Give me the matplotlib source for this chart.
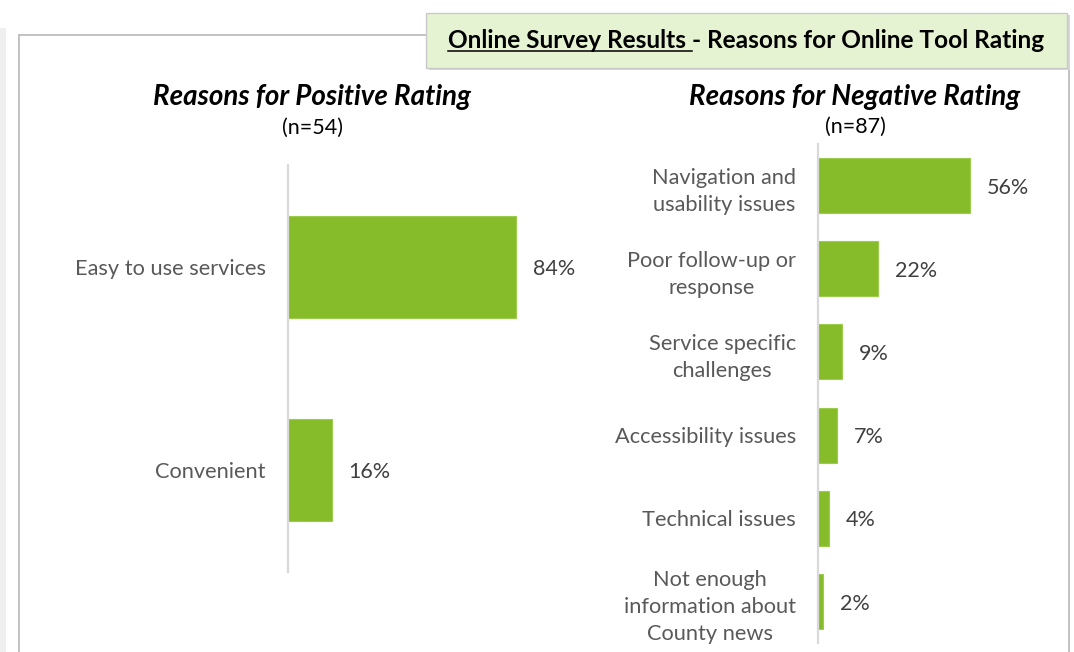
import matplotlib
matplotlib.use("Agg")
import matplotlib.pyplot as plt
from matplotlib.patches import Rectangle
from matplotlib.lines import Line2D

plt.rcParams['font.family'] = ['Lato', 'DejaVu Sans']

# positive rating reasons (n=54)
pos_labels = ['Easy to use services', 'Convenient']
pos_values = [84, 16]

# negative rating reasons (n=87)
neg_labels = ['Navigation and\nusability issues', 'Poor follow-up or\nresponse',
              'Service specific\nchallenges', 'Accessibility issues',
              'Technical issues', 'Not enough\ninformation about\nCounty news']
neg_values = [56, 22, 9, 7, 4, 2]

GREEN = '#86bc29'
W, H = 1074, 652

fig = plt.figure(figsize=(W / 100, H / 100), dpi=100)
fig.patch.set_facecolor('white')


def box(x0, y0, x1, y1):
    # pixel box (top-left origin) -> figure fraction rect
    return [x0 / W, 1 - y1 / H, (x1 - x0) / W, (y1 - y0) / H]


def fx(x):
    return x / W


def fy(y):
    return 1 - y / H


# grey strip on the far left and the outer frame
fig.patches.append(Rectangle((0, 0), fx(6), fy(28), transform=fig.transFigure,
                             facecolor='#efefef', edgecolor='none', zorder=0))
frame_kw = dict(transform=fig.transFigure, color='#bdbdbd', lw=1.3, zorder=1)
fig.lines.append(Line2D([fx(19), fx(19)], [0, fy(35)], **frame_kw))
fig.lines.append(Line2D([fx(19), fx(1069)], [fy(35), fy(35)], **frame_kw))
fig.lines.append(Line2D([fx(1069), fx(1069)], [0, fy(35)], **frame_kw))


def bar_panel(rect, labels, values, height):
    ax = fig.add_axes(rect)
    y = list(range(len(labels)))
    ax.barh(y, values, height=height, color=GREEN, edgecolor='#9ccc4c', linewidth=0.8)
    ax.set_xlim(0, 100)
    ax.set_ylim(len(labels) - 0.5, -0.5)
    ax.set_yticks(y)
    ax.set_yticklabels(labels, fontsize=15.7, color='#595959')
    for t in ax.get_yticklabels():
        t.set_multialignment('center')
        t.set_linespacing(1.45)
    ax.tick_params(axis='y', length=0, pad=16)
    ax.set_xticks([])
    for s in ['top', 'right', 'bottom']:
        ax.spines[s].set_visible(False)
    ax.spines['left'].set_color('#d9d9d9')
    ax.spines['left'].set_linewidth(1.6)
    ax.patch.set_alpha(0)
    for yi, v in zip(y, values):
        ax.annotate(f'{v}%', (v, yi), xytext=(12, -1.5), textcoords='offset points',
                    ha='left', va='center', fontsize=15.5, color='#404040')
    return ax


bar_panel(box(288, 165, 560, 572), pos_labels, pos_values, 0.5)
bar_panel(box(818, 144, 1090, 643), neg_labels, neg_values, 0.66)

# panel headings
fig.text(fx(312), fy(97), 'Reasons for Positive Rating', ha='center', va='center',
         fontsize=20, fontweight='bold', fontstyle='italic')
fig.text(fx(312), fy(128), '(n=54)', ha='center', va='center', fontsize=15.5)
fig.text(fx(855), fy(97), 'Reasons for Negative Rating', ha='center', va='center',
         fontsize=20, fontweight='bold', fontstyle='italic')
fig.text(fx(855), fy(127), '(n=87)', ha='center', va='center', fontsize=15.5)

# title banner
fig.patches.append(Rectangle((fx(429), fy(70)), (1070 - 429) / W, (70 - 15) / H,
                             transform=fig.transFigure, facecolor='#d6d6d6',
                             edgecolor='none', zorder=2))
fig.patches.append(Rectangle((fx(426), fy(68)), (1067 - 426) / W, (68 - 13) / H,
                             transform=fig.transFigure, facecolor='#e6f3d2',
                             edgecolor='#c9c9c9', lw=1, zorder=3))

renderer = fig.canvas.get_renderer()
t1 = fig.text(fx(448), fy(40), 'Online Survey Results ', ha='left', va='center',
              fontsize=17.6, fontweight='bold', zorder=4)
bb = t1.get_window_extent(renderer)
fig.lines.append(Line2D([bb.x0 / W, bb.x1 / W], [(bb.y0 + 1) / H] * 2,
                        transform=fig.transFigure, color='black', lw=1.1, zorder=4))
fig.text(bb.x1 / W, fy(40), '- Reasons for Online Tool Rating', ha='left', va='center',
         fontsize=17.6, fontweight='bold', zorder=4)

fig.savefig('out.png', dpi=100)
